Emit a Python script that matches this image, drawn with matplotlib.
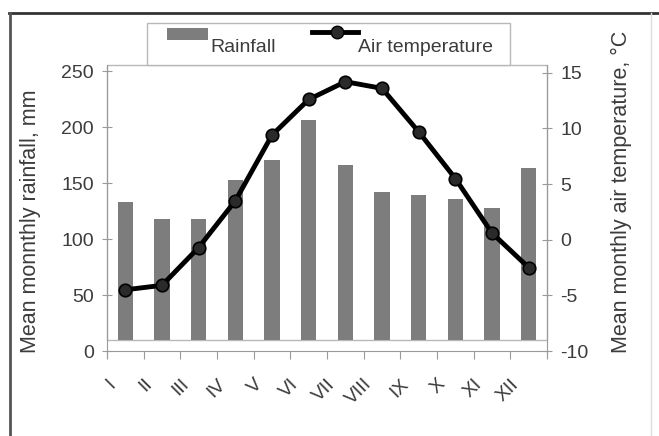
import matplotlib
matplotlib.use("Agg")
import matplotlib.pyplot as plt
from matplotlib.patches import Rectangle
from matplotlib.lines import Line2D
from matplotlib.transforms import ScaledTranslation
import numpy as np

plt.rcParams["font.family"] = ["Liberation Sans", "DejaVu Sans"]
plt.rcParams["axes.unicode_minus"] = False

months = ["I", "II", "III", "IV", "V", "VI", "VII", "VIII", "IX", "X", "XI", "XII"]
rainfall = [133, 118, 118, 153, 171, 206, 166, 142, 139, 136, 128, 163]
air_temp = [-4.5, -4.1, -0.7, 3.5, 9.4, 12.6, 14.2, 13.6, 9.7, 5.5, 0.6, -2.5]
rain_ticks = [0, 50, 100, 150, 200, 250]
temp_ticks = [-10, -5, 0, 5, 10, 15]

W, H = 659, 436
TEXT = "#3c3c3c"
BAR = "#7d7d7d"
FRAME = "#b8b8b8"
AXIS = "#9a9a9a"


def fx(px):
    return px / W


def fy(py):
    return 1 - py / H


fig = plt.figure(figsize=(W / 100, H / 100), dpi=100)

# axes spans pixel rows 65 (top) .. 351 (value 0 / -10)
ax = fig.add_axes([fx(107), fy(351), fx(547) - fx(107), fy(65) - fy(351)])
ax2 = ax.twinx()

x = np.arange(len(months))
floor = 10  # bars start slightly above the axis line, like the original
ax.bar(x, np.array(rainfall) - floor, bottom=floor, width=0.42, color=BAR, zorder=2)
ax.set_xlim(-0.5, len(months) - 0.5)
ax.set_ylim(0, 255.4)
ax.set_yticks(rain_ticks)

ax2.plot(x, air_temp, color="black", lw=3.5, marker="o", ms=9,
         mfc="#2a2a2a", mec="black", mew=1.2, zorder=3)
ax2.set_ylim(-10, 15.7)
ax2.set_yticks(temp_ticks)

for a in (ax, ax2):
    for s in a.spines.values():
        s.set_visible(False)
ax.spines["left"].set_visible(True)
ax.spines["left"].set_color(AXIS)
ax.spines["left"].set_bounds(-6, 255.4)
ax.spines["bottom"].set_visible(True)
ax.spines["bottom"].set_color(AXIS)
ax2.spines["right"].set_visible(True)
ax2.spines["right"].set_color(AXIS)
ax2.spines["right"].set_bounds(-10.4, 15.7)

# plot area frame (ends just under the bars)
frame_bottom = (351 - 340) / (351 - 65)
ax.add_patch(Rectangle((0, frame_bottom), 1, 1 - frame_bottom, transform=ax.transAxes,
                       fill=False, ec=FRAME, lw=1, zorder=1, clip_on=False))

ax.tick_params(axis="y", direction="inout", length=7, color=AXIS,
               labelsize=14, labelcolor=TEXT, pad=6)
ax2.tick_params(axis="y", direction="inout", length=7, color=AXIS,
                labelsize=14, labelcolor=TEXT, pad=6)

# category boundaries get the ticks, centres get the labels
ax.set_xticks(np.arange(-0.5, len(months), 1.0))
ax.set_xticklabels([])
ax.set_xticks(x, minor=True)
ax.set_xticklabels(months, minor=True, rotation=45, ha="right", va="center",
                   rotation_mode="anchor")
ax.tick_params(axis="x", which="major", direction="out", length=6, color=AXIS)
ax.tick_params(axis="x", which="minor", length=0, pad=22, labelsize=14, labelcolor=TEXT)
shift = ScaledTranslation(-0.125, 0, fig.dpi_scale_trans)
for lbl in ax.get_xticklabels(minor=True):
    lbl.set_transform(lbl.get_transform() + shift)

fig.text(fx(31), fy(221), "Mean monnthly rainfall, mm", rotation=90,
         ha="center", va="center", fontsize=15.5, color=TEXT)
fig.text(fx(621), fy(192), "Mean monthly air temperature, \u00b0C", rotation=90,
         ha="center", va="center", fontsize=15.5, color=TEXT)

# legend box sitting on top of the plot frame
fig.patches.append(Rectangle((fx(147), fy(65)), fx(510) - fx(147), fy(23) - fy(65),
                             transform=fig.transFigure, fc="white", ec=FRAME, lw=1, zorder=5))
fig.patches.append(Rectangle((fx(167), fy(40)), fx(208) - fx(167), fy(28) - fy(40),
                             transform=fig.transFigure, fc=BAR, ec="none", zorder=6))
fig.text(fx(210), fy(48), "Rainfall", ha="left", va="center", fontsize=14,
         color=TEXT, zorder=6)
fig.lines.append(Line2D([fx(312), fx(358)], [fy(32), fy(32)], transform=fig.transFigure,
                        color="black", lw=3.5, zorder=6))
fig.lines.append(Line2D([fx(337)], [fy(32)], transform=fig.transFigure, marker="o", ms=9,
                        mfc="#2a2a2a", mec="black", color="black", zorder=7))
fig.text(fx(358), fy(48), "Air temperature", ha="left", va="center", fontsize=14,
         color=TEXT, zorder=6)

# outer border of the picture
fig.lines.append(Line2D([fx(9), 1], [fy(13), fy(13)], transform=fig.transFigure,
                        color="#333333", lw=2))
fig.lines.append(Line2D([fx(10), fx(10)], [fy(13), 0], transform=fig.transFigure,
                        color="#555555", lw=2))
fig.lines.append(Line2D([fx(651), fx(651)], [fy(13), 0], transform=fig.transFigure,
                        color="#dddddd", lw=1))

fig.savefig("out.png", dpi=100)
